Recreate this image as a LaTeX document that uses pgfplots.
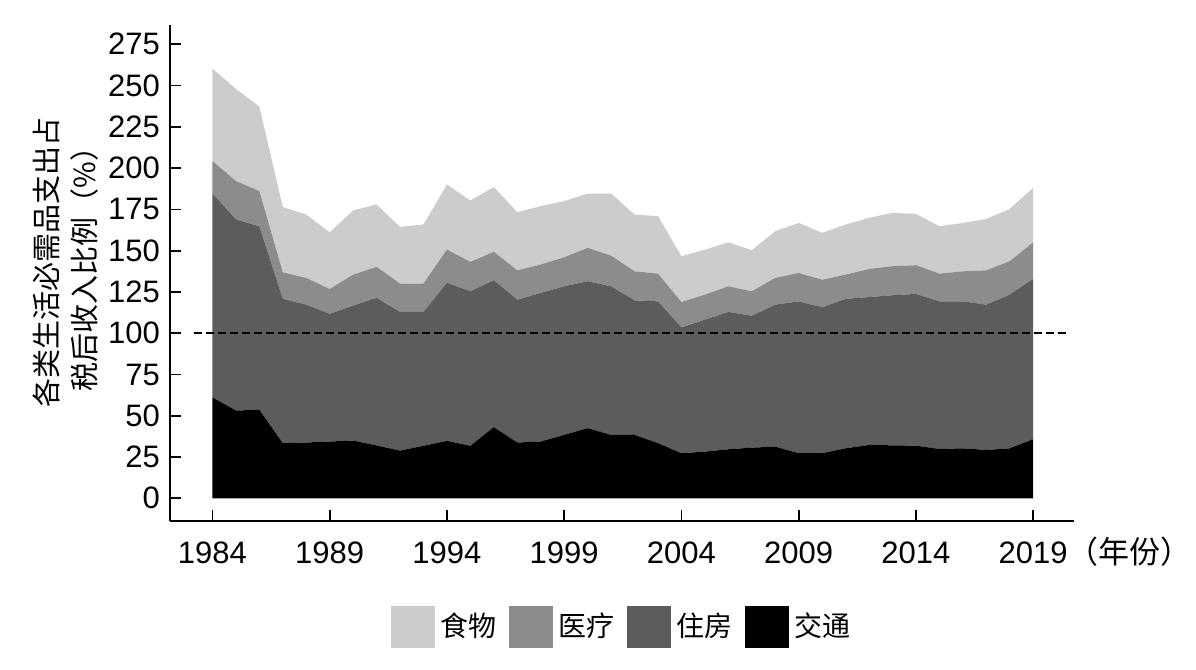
\documentclass[border=0pt]{standalone}
\usepackage{fontspec}
\setmainfont{Liberation Sans}
\newfontfamily\cjk{Noto Sans CJK SC}
\usepackage{pgfplots}
\usepackage{pgfplotstable}
\pgfplotsset{compat=1.18}
\definecolor{cfood}{HTML}{CCCCCC}
\definecolor{cmed}{HTML}{8C8C8C}
\definecolor{chouse}{HTML}{5C5C5C}
\definecolor{ctrans}{HTML}{000000}

% per-category shares (stacked): transport, housing, medical, food
\pgfplotstableread{
year jt zf yl sw
1984 61.1 123.6 19.6 56.0
1985 53.2 115.7 23.3 55.8
1986 53.6 111.2 21.3 51.2
1987 33.4 87.4 16.1 39.5
1988 33.8 83.5 16.2 38.4
1989 34.4 77.3 15.1 34.3
1990 35.0 81.7 18.8 38.9
1991 32.0 89.4 18.8 37.8
1992 28.9 84.0 17.2 34.3
1993 31.8 81.1 17.2 35.8
1994 34.8 95.7 20.2 39.4
1995 31.8 93.6 17.8 37.2
1996 43.1 89.0 17.2 39.2
1997 33.8 86.5 17.8 35.2
1998 34.4 90.0 17.2 35.4
1999 38.4 90.0 17.6 34.0
2000 42.5 89.0 20.2 32.9
2001 38.4 90.0 18.6 37.6
2002 38.4 81.5 17.6 34.4
2003 33.4 85.9 16.8 34.8
2004 27.3 76.2 15.4 27.7
2005 28.3 79.9 15.2 27.2
2006 29.7 83.2 15.5 26.7
2007 30.7 79.9 14.8 24.9
2008 31.3 86.0 16.2 28.3
2009 27.3 92.0 17.2 30.3
2010 27.3 88.4 16.7 28.4
2011 30.3 90.5 14.7 30.3
2012 32.3 89.6 17.0 31.0
2013 32.1 90.9 17.6 32.3
2014 31.9 91.9 17.4 31.1
2015 29.9 89.4 16.8 28.7
2016 30.3 89.0 18.2 29.3
2017 29.3 88.0 20.8 31.1
2018 30.3 93.1 20.2 31.7
2019 35.8 97.1 22.2 33.0
}\datatable

\begin{document}
\begin{tikzpicture}
\useasboundingbox (-85pt,-74.5pt) rectangle (513pt,260.5pt);
\begin{axis}[
  name=ax,
  scale only axis, width=452pt, height=248pt,
  xmin=1982.19, xmax=2020.74, ymin=-13.75, ymax=286.7,
  axis x line*=bottom, axis y line*=left,
  axis line style={line width=0.85pt, black},
  tick style={line width=0.85pt, black},
  tick align=inside,
  major tick length=5.5pt,
  xtick={1984,1989,1994,1999,2004,2009,2014,2019},
  xticklabels={1984,1989,1994,1999,2004,2009,2014,{2019\rlap{\smash{\cjk（年份）}}}},
  ytick={0,25,50,75,100,125,150,175,200,225,250,275},
  ticklabel style={font=\fontsize{15.5}{18}\selectfont},
  xticklabel style={yshift=-7pt},
  yticklabel style={xshift=-1.5pt},
  /pgf/number format/assume math mode=true,
  /pgf/number format/1000 sep={},
  stack plots=y,
  legend columns=4,
  reverse legend,
  legend cell align=left,
  legend style={draw=none, fill=none, at={(0.502,-0.2127)}, anchor=center,
    font=\cjk\fontsize{14}{16}\selectfont, inner sep=0pt,
    nodes={inner xsep=3pt},
    /tikz/every even column/.append style={column sep=3pt}},
  legend image code/.code={\fill[#1] (0pt,-10.5pt) rectangle (22pt,10.5pt);},
]
\addplot[fill=ctrans, draw=none] table[x=year, y=jt] {\datatable} \closedcycle;
\addlegendentry{交通}
\addplot[fill=chouse, draw=none] table[x=year, y=zf] {\datatable} \closedcycle;
\addlegendentry{住房}
\addplot[fill=cmed, draw=none] table[x=year, y=yl] {\datatable} \closedcycle;
\addlegendentry{医疗}
\addplot[fill=cfood, draw=none] table[x=year, y=sw] {\datatable} \closedcycle;
\addlegendentry{食物}
\coordinate (dA) at (axis cs:1983.2,100);
\coordinate (dB) at (axis cs:2020.45,100);
\coordinate (yl) at (rel axis cs:-0.115,0.522);
\end{axis}
\draw[line width=0.9pt, dash pattern=on 4pt off 2pt] (dA) -- (dB);
\node[rotate=90, align=center, font=\cjk\fontsize{14.5}{19}\selectfont] at (yl) {各类生活必需品支出占\\税后收入比例（\%）};
\end{tikzpicture}
\end{document}
